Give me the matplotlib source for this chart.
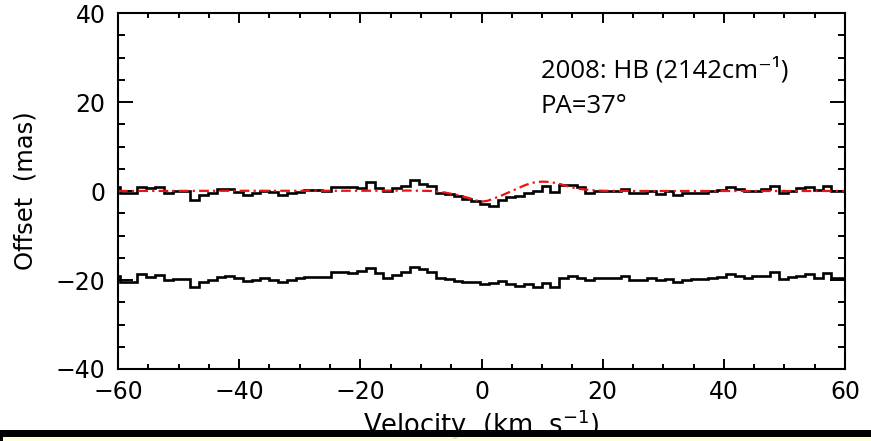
import numpy as np
import matplotlib
matplotlib.use("Agg")
import matplotlib.pyplot as plt
from matplotlib.patches import Rectangle

# ---- data ----
chan_first_edge = -61.14   # km/s, first channel edge
chan_width = 1.45          # km/s, channel width

offset_upper = [0.8, -0.5, -0.5, 0.8, 0.6, 0.9, -0.5, -0.1, 0.1, -2.0,
                -0.9, -0.4, 0.4, 0.5, -0.2, -0.8, -0.4, 0.0, -0.3, -1.0,
                -0.5, -0.3, 0.2, 0.2, 0.1, 0.9, 0.9, 0.8, 0.6, 2.0,
                0.6, -0.1, 0.7, 1.2, 2.5, 1.6, 1.1, -0.5, -0.6, -1.1,
                -1.8, -2.3, -2.9, -3.4, -2.0, -1.4, -1.1, -0.4, 0.1, 1.1,
                -0.3, 1.3, 1.3, 0.8, -0.4, 0.1, 0.1, -0.1, 0.4, -0.5,
                -0.5, -0.1, -0.6, -0.1, -0.9, -0.4, -0.5, -0.4, 0.0, 0.2,
                0.8, 0.4, -0.1, 0.1, 0.4, 1.1, -0.4, 0.1, 0.6, 1.0,
                0.2, 1.1, 0.0, 0.0]

offset_lower = [-19.0, -20.4, -20.4, -18.7, -19.25, -18.9, -20.0, -19.8, -19.8, -21.5,
                -20.5, -20.0, -19.25, -19.0, -19.6, -20.2, -20.0, -19.5, -20.0, -20.5,
                -20.0, -19.6, -19.25, -19.25, -19.25, -18.1, -18.1, -18.5, -18.0, -17.4,
                -18.5, -19.5, -18.9, -18.1, -17.0, -17.5, -18.1, -19.5, -19.8, -20.2,
                -20.4, -20.4, -21.0, -20.75, -20.2, -21.0, -21.3, -21.0, -21.5, -20.75,
                -21.5, -19.5, -19.0, -19.5, -20.0, -19.6, -19.6, -19.5, -19.0, -20.0,
                -20.0, -19.6, -20.0, -19.8, -20.4, -20.0, -19.8, -19.8, -19.5, -19.25,
                -18.7, -19.0, -19.6, -19.0, -19.0, -18.3, -19.8, -19.25, -19.0, -18.7,
                -19.5, -18.5, -19.5, -19.5]

model_vel = [-60, -40, -20, -12, -8, -6, -4, -2, -1, 0, 1, 2, 3, 4, 5, 6, 7, 8,
             9, 10, 11, 12, 13, 14, 15, 16, 18, 20, 25, 40, 60]
model_off = [0.0, 0.05, 0.05, 0.1, 0.0, -0.35, -0.9, -1.6, -2.1, -2.4, -2.2, -1.7,
             -1.2, -0.6, 0.0, 0.6, 1.2, 1.7, 2.0, 2.1, 2.05, 1.85, 1.55, 1.15, 0.8,
             0.5, 0.2, 0.05, 0.0, 0.0, 0.0]

x_ticks = [-60, -40, -20, 0, 20, 40, 60]
y_ticks = [-40, -20, 0, 20, 40]
label_line1 = "2008: HB (2142cm\u207B\u00B9)"
label_line2 = "PA=37\u00B0"

# ---- figure ----
plt.rcParams['font.family'] = ['DejaVu Sans']
plt.rcParams['lines.scale_dashes'] = False
W, H = 871, 441
fig = plt.figure(figsize=(W / 100, H / 100), dpi=100)
fig.patch.set_facecolor('white')
L, R, T, B = 118, 845, 13, 369
ax = fig.add_axes([L / W, 1 - B / H, (R - L) / W, (B - T) / H])

edges = chan_first_edge + chan_width * np.arange(len(offset_upper) + 1)
ax.stairs(offset_upper, edges, color='black', lw=1.9)
ax.stairs(offset_lower, edges, color='black', lw=1.9)
ax.plot(model_vel, model_off, color='#ee1111', lw=1.6, linestyle=(0, (7, 3, 1.6, 3)))

ax.set_xlim(-60, 60)
ax.set_ylim(-40, 40)
ax.set_xticks(x_ticks)
ax.set_xticklabels([str(t).replace('-', '\u2212') for t in x_ticks])
ax.set_yticks(y_ticks)
ax.set_yticklabels([str(t).replace('-', '\u2212') for t in y_ticks])
ax.set_xticks(np.arange(-60, 61, 5), minor=True)
ax.set_yticks(np.arange(-40, 41, 5), minor=True)
ax.tick_params(which='both', direction='in', top=True, right=True, width=1.4,
               labelsize=17, color='black')
ax.tick_params(axis='x', which='major', length=7.5, pad=8)
ax.tick_params(axis='x', which='minor', length=3.8)
ax.tick_params(axis='y', which='major', length=10.5, pad=9)
ax.tick_params(axis='y', which='minor', length=5)
for s in ax.spines.values():
    s.set_linewidth(1.5)

ax.set_ylabel("Offset  (mas)", fontsize=17.5, labelpad=13)

ax.text(9.8, 25.4, label_line1, fontsize=18.5, family=['Open Sans', 'DejaVu Sans'],
        va='baseline', ha='left')
ax.text(9.8, 17.5, label_line2, fontsize=18.5, family=['Open Sans', 'DejaVu Sans'],
        va='baseline', ha='left')

# x label (partly hidden behind the bottom bar)
fig.text((L + R) / 2 / W, 1 - 434 / H, "Velocity  (km  s$^{-1}$)", fontsize=18.5,
         ha='center', va='baseline', zorder=5)

# bottom bars
fig.patches.append(Rectangle((0, 1 - 437 / H), 1, 7 / H, transform=fig.transFigure,
                             facecolor='black', edgecolor='none', zorder=10))
fig.patches.append(Rectangle((0, 0), 3 / W, 4 / H, transform=fig.transFigure,
                             facecolor='black', edgecolor='none', zorder=10))
fig.patches.append(Rectangle((3 / W, 0), 1, 4 / H, transform=fig.transFigure,
                             facecolor='#ffffd8', edgecolor='none', alpha=0.9, zorder=11))

fig.savefig("out.png", dpi=100)
